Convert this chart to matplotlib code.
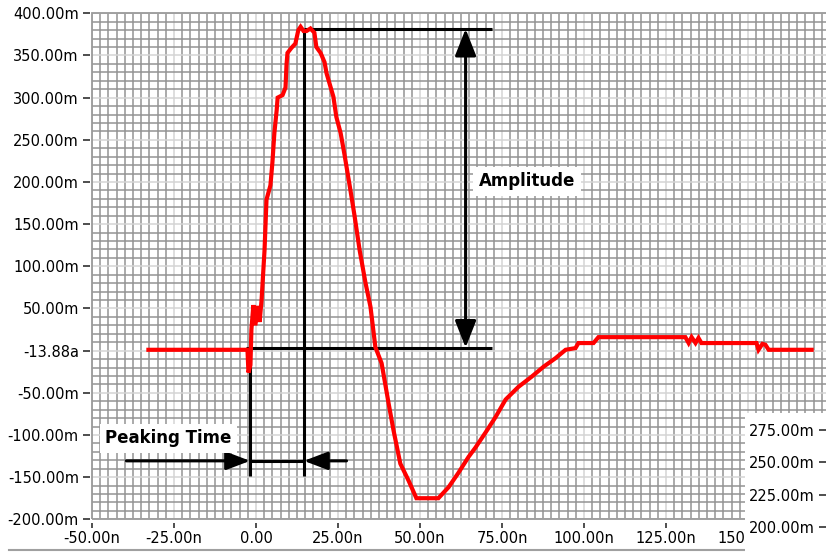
import matplotlib
matplotlib.use('Agg')
import matplotlib.pyplot as plt
from matplotlib.ticker import MultipleLocator, FixedLocator, FixedFormatter
from matplotlib.patches import Rectangle
from matplotlib.lines import Line2D

plt.rcParams['font.family'] = 'DejaVu Sans'
plt.rcParams['axes.unicode_minus'] = False

# shaper output pulse: time (ns) vs amplitude (mV)
t_ns = [-32.8, -2.6, -2.3, -1.7, -1.4, -0.8, -0.2, 0.5, 1.1, 1.7, 2.6, 3.2,
        4.4, 5.0, 5.6, 6.3, 6.6, 8.1, 9.0, 9.3, 9.6, 10.8, 12.0, 12.9, 13.6,
        14.5, 15.4, 16.6, 17.8, 18.4, 19.7, 20.9, 21.5, 22.7, 23.6, 24.5,
        25.8, 27.0, 28.8, 30.0, 31.6, 33.4, 34.9, 36.4, 38.3, 40.4, 41.9,
        44.0, 46.5, 48.9, 55.6, 58.7, 61.7, 64.8, 66.9, 70.0, 73.0, 76.1,
        80.0, 84.0, 87.7, 91.3, 94.4, 97.4, 98.3, 102.9, 104.4, 130.9, 131.9,
        132.8, 134.0, 134.9, 135.8, 152.6, 153.2, 154.4, 155.3, 156.3, 169.4]
v_mv = [1, 1, -26, -17, 25, 54, 30, 53, 34, 60, 119, 179,
        196, 223, 258, 285, 300, 303, 312, 339, 353, 359, 364, 380, 384,
        379, 379, 382, 377, 360, 353, 342, 329, 313, 301, 277,
        258, 232, 190, 161, 119, 80, 52, 4, -15, -62, -94,
        -134, -154, -175, -175, -162, -145, -126, -115, -97, -79, -58,
        -43, -31, -19, -9, 1, 3, 9, 9, 16, 16, 9,
        16, 9, 15, 9, 9, 1, 8, 7, 1, 1]

# measured quantities
start_ns = -1.8
peak_ns = 14.6
peak_mv = 381.5
base_mv = 3.6
marker_bottom_mv = -148.6
peaking_arrow_mv = -130.7
peaking_arrow_ns = (-39.5, 27.6)
amp_arrow_ns = 63.9
level_line_end_ns = 72.1
base_line_start_ns = -3.2

x_ticks = [-50, -25, 0, 25, 50, 75, 100, 125, 150]
x_tick_labels = ['-50.00n', '-25.00n', '0.00', '25.00n', '50.00n', '75.00n',
                 '100.00n', '125.00n', '150.00n']
y_ticks = [-200, -150, -100, -50, 0, 50, 100, 150, 200, 250, 300, 350, 400]
y_tick_labels = ['-200.00m', '-150.00m', '-100.00m', '-50.00m', '-13.88a',
                 '50.00m', '100.00m', '150.00m', '200.00m', '250.00m',
                 '300.00m', '350.00m', '400.00m']

# scale of the second graph peeking in at the lower right
side_ticks = [200, 225, 250, 275]
side_tick_labels = ['200.00m', '225.00m', '250.00m', '275.00m']

W, H = 826, 552
fig = plt.figure(figsize=(W / 100, H / 100), dpi=100)
ax = fig.add_axes([92 / W, 32.7 / H, 754.4 / W, 506 / H])
ax.set_xlim(-50, 180)
ax.set_ylim(-200, 400)

ax.xaxis.set_major_locator(FixedLocator(x_ticks))
ax.xaxis.set_major_formatter(FixedFormatter(x_tick_labels))
ax.yaxis.set_major_locator(FixedLocator(y_ticks))
ax.yaxis.set_major_formatter(FixedFormatter(y_tick_labels))
ax.xaxis.set_minor_locator(MultipleLocator(2.5))
ax.yaxis.set_minor_locator(MultipleLocator(10))

ax.set_axisbelow(True)
ax.grid(which='minor', color='#939393', lw=1.1)
ax.grid(which='major', color='#d4d4d4', lw=1.1)

for s in ax.spines.values():
    s.set_color('none')
ax.spines['left'].set_position(('outward', 1.5))
ax.spines['bottom'].set_position(('outward', 3))
ax.add_patch(Rectangle((0, 0), 1, 1, transform=ax.transAxes, fill=False,
                       edgecolor='#9a9a9a', lw=1.3, clip_on=False, zorder=4))

ax.tick_params(which='minor', length=0)
ax.tick_params(axis='y', which='major', direction='out', length=5, width=1.2,
               color='#303030', labelsize=10.5, pad=3)
ax.tick_params(axis='x', which='major', direction='out', length=3.6, width=1.2,
               color='#303030', labelsize=10.5, pad=2)

# measurement markers
k = dict(color='black', lw=2.2, solid_capstyle='butt', zorder=3)
ax.plot([peak_ns, level_line_end_ns], [peak_mv, peak_mv], **k)
ax.plot([base_line_start_ns, level_line_end_ns], [base_mv, base_mv], **k)
ax.plot([start_ns, start_ns], [base_mv, marker_bottom_mv], **k)
ax.plot([peak_ns, peak_ns], [peak_mv, marker_bottom_mv], **k)
ax.plot([start_ns, peak_ns], [peaking_arrow_mv, peaking_arrow_mv], **k)

head_pk = dict(arrowstyle='-|>,head_length=1.45,head_width=0.55', color='black',
               lw=2.2, shrinkA=0, shrinkB=0, mutation_scale=10)
ax.annotate('', xy=(start_ns, peaking_arrow_mv),
            xytext=(peaking_arrow_ns[0], peaking_arrow_mv),
            arrowprops=head_pk, zorder=3)
ax.annotate('', xy=(peak_ns, peaking_arrow_mv),
            xytext=(peaking_arrow_ns[1], peaking_arrow_mv),
            arrowprops=head_pk, zorder=3)
ax.annotate('', xy=(amp_arrow_ns, peak_mv), xytext=(amp_arrow_ns, base_mv),
            arrowprops=dict(arrowstyle='<|-|>,head_length=1.65,head_width=0.65',
                            color='black', lw=2.2, shrinkA=0, shrinkB=0,
                            mutation_scale=10), zorder=3)

ax.plot(t_ns, v_mv, color='#ff0000', lw=3, solid_joinstyle='miter', zorder=5)

box = dict(facecolor='white', edgecolor='none', pad=4)
ax.text(82.6, 200.6, 'Amplitude', fontsize=12, fontweight='bold',
        ha='center', va='center', bbox=box, zorder=6)
ax.text(-26.7, -103.8, 'Peaking Time', fontsize=12, fontweight='bold',
        ha='center', va='center', bbox=box, zorder=6)

# window frame line and the covering panel of the next graph
fig.add_artist(Line2D([9 / W, 745 / W], [2 / H, 2 / H], color='#a0a0a0', lw=1.5))
fig.add_artist(Rectangle((745 / W, 0), 90 / W, 139 / H, transform=fig.transFigure,
                         facecolor='white', edgecolor='none', zorder=5))
side = fig.add_axes([1.0, 0, 0.1, 139 / H])
side.set_zorder(6)
side.set_facecolor('none')
side.set_ylim(180.7, 288.1)
side.yaxis.set_major_locator(FixedLocator(side_ticks))
side.yaxis.set_major_formatter(FixedFormatter(side_tick_labels))
side.xaxis.set_visible(False)
for s in side.spines.values():
    s.set_color('none')
side.tick_params(axis='y', direction='out', length=5, width=1.2, color='#303030',
                 labelsize=10.5, pad=3)

fig.savefig('out.png', dpi=100)
